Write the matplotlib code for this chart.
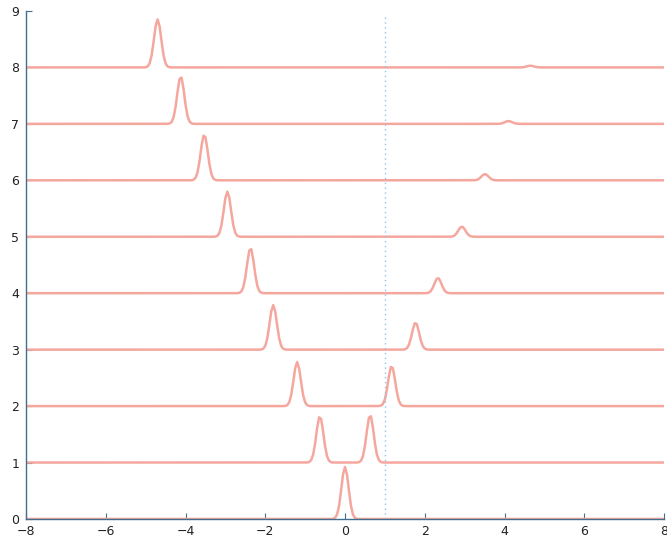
import numpy as np
import matplotlib
matplotlib.use("Agg")
import matplotlib.pyplot as plt

# one trace per time step, offset vertically by its step index
levels = [0, 1, 2, 3, 4, 5, 6, 7, 8]
left_pos = [0.0, -0.63, -1.20, -1.80, -2.37, -2.95, -3.53, -4.12, -4.70]
left_amp = [0.92, 0.82, 0.78, 0.79, 0.80, 0.80, 0.81, 0.84, 0.85]
right_pos = [0.0, 0.63, 1.17, 1.77, 2.33, 2.93, 3.51, 4.10, 4.65]
right_amp = [0.0, 0.84, 0.71, 0.48, 0.27, 0.18, 0.11, 0.05, 0.03]

x_ticks = [-8, -6, -4, -2, 0, 2, 4, 6, 8]
y_ticks = [0, 1, 2, 3, 4, 5, 6, 7, 8, 9]
marker_x = 1.0

LINE_COLOR = '#f5a79e'
SIGMA = 0.09

x = np.arange(-8, 8.0001, 0.05)

fig = plt.figure(figsize=(6.67, 5.41), dpi=100)
ax = fig.add_axes([0.039, 0.0407, 0.9565, 0.939])

for k, lp, la, rp, ra in zip(levels, left_pos, left_amp, right_pos, right_amp):
    y = la * np.exp(-(x - lp) ** 2 / (2 * SIGMA ** 2))
    if ra > 0:
        y = y + ra * np.exp(-(x - rp) ** 2 / (2 * SIGMA ** 2))
    ax.plot(x, k + y, color=LINE_COLOR, lw=1.8)

ax.axvline(marker_x, ymin=0, ymax=0.995, color='#8ec3ea', lw=1.0, ls=(0, (1, 2.5)))

ax.set_xlim(-8, 8)
ax.set_ylim(0, 9)
ax.set_xticks(x_ticks)
ax.set_yticks(y_ticks)
ax.spines['top'].set_visible(False)
ax.spines['right'].set_visible(False)
for s in ('left', 'bottom'):
    ax.spines[s].set_color('#3f6f8c')
    ax.spines[s].set_linewidth(1.0)
ax.tick_params(direction='in', length=4, width=0.8, color='#3f6f8c',
               labelsize=9, labelcolor='#222222')
ax.tick_params(axis='x', pad=4)
ax.tick_params(axis='y', pad=5)

fig.savefig('out.png', dpi=100)
